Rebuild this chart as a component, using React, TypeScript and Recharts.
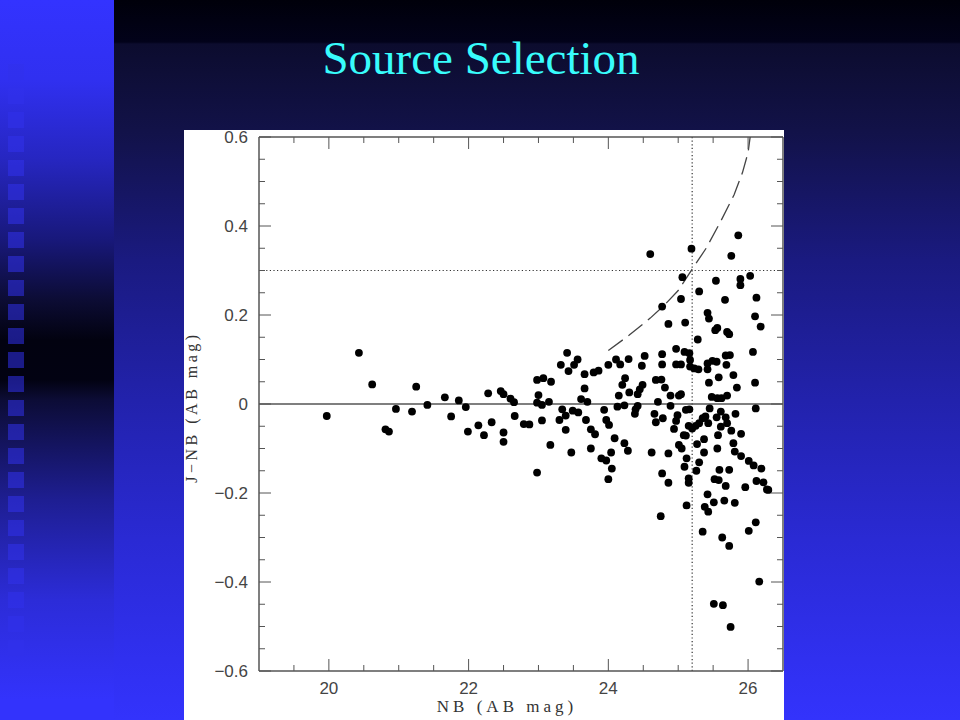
import React from 'react';
import { ScatterChart, Scatter, XAxis, YAxis, ReferenceLine } from 'recharts';

// NB magnitude and J-NB colour of every source
const nbMag = [
  19.97, 20.43, 20.62, 20.81, 20.86, 20.96, 21.19, 21.25, 21.41, 21.66,
  21.75, 21.86, 21.96, 21.99, 22.14, 22.22, 22.28, 22.33, 22.46, 22.5,
  22.5, 22.5, 22.6, 22.65, 22.66, 22.79, 22.87, 22.98, 23.07, 23.18,
  23.0, 22.98, 23.05, 23.15, 22.98, 23.05, 23.17, 23.3, 23.39, 23.34,
  23.39, 23.47, 23.49, 23.57, 23.68, 23.75, 23.81, 23.75, 23.9, 23.97,
  24.0, 24.05, 24.04, 23.94, 23.97, 24.01, 24.09, 24.23, 24.28, 24.13,
  24.23, 24.39, 24.38, 24.42, 23.32, 23.41, 23.56, 23.51, 23.43, 23.66,
  23.79, 23.86, 23.66, 23.61, 23.7, 24.0, 24.11, 24.17, 24.29, 24.52,
  24.48, 24.24, 24.2, 24.3, 24.15, 24.42, 24.45, 24.49, 24.6, 25.19,
  25.86, 25.76, 25.06, 25.54, 25.89, 25.89, 26.03, 25.04, 25.3, 25.67,
  26.12, 24.77, 24.86, 25.1, 25.42, 25.44, 25.53, 25.56, 25.7, 25.73,
  26.1, 26.18, 25.28, 24.97, 25.09, 25.16, 24.77, 24.77, 24.97, 25.04,
  25.17, 25.17, 25.23, 25.29, 25.42, 25.49, 25.55, 25.42, 25.68, 25.74,
  25.69, 26.07, 25.79, 25.58, 25.44, 25.84, 26.1, 24.68, 24.76, 24.81,
  24.89, 25.01, 25.04, 24.71, 24.89, 25.11, 25.16, 24.99, 24.97, 24.66,
  24.78, 25.48, 25.56, 25.62, 25.7, 25.45, 25.61, 25.68, 25.82, 26.11,
  25.43, 25.35, 25.3, 25.61, 25.7, 25.15, 25.25, 24.68, 24.62, 24.77,
  24.75, 24.86, 24.86, 24.94, 25.01, 25.05, 25.08, 25.11, 25.09, 25.12,
  25.15, 25.15, 25.12, 25.2, 25.39, 25.27, 25.3, 25.26, 25.37, 25.37,
  25.38, 25.43, 25.51, 25.42, 25.35, 25.51, 25.64, 25.75, 25.63, 25.73,
  25.52, 25.58, 25.59, 25.57, 25.55, 25.56, 25.66, 25.68, 25.73, 25.76,
  25.79, 25.81, 25.81, 25.9, 25.9, 25.96, 26.01, 26.08, 26.01, 26.11,
  26.12, 26.19, 26.22, 26.27, 26.29, 26.16,
];
const jMinusNb = [
  -0.027, 0.115, 0.044, -0.057, -0.062, -0.011, -0.017, 0.039, -0.002, 0.015,
  -0.028, 0.008, -0.007, -0.062, -0.048, -0.07, 0.024, -0.041, 0.029, 0.022,
  -0.064, -0.085, 0.012, 0.004, -0.027, -0.045, -0.046, 0.054, 0.058, 0.05,
  0.02, 0.003, -0.002, 0.005, -0.154, -0.037, -0.092, -0.036, -0.026, -0.012,
  -0.058, -0.109, -0.015, -0.019, -0.036, -0.057, -0.068, -0.1, -0.122, -0.127,
  -0.169, -0.145, -0.109, -0.013, -0.036, -0.047, -0.077, -0.088, -0.105, -0.006,
  -0.003, -0.012, -0.022, -0.004, 0.088, 0.115, 0.1, 0.088, 0.074, 0.067,
  0.071, 0.075, 0.035, 0.011, 0.005, 0.088, 0.1, 0.089, 0.101, 0.108,
  0.086, 0.058, 0.043, 0.026, 0.019, 0.022, 0.033, 0.043, 0.337, 0.349,
  0.379, 0.333, 0.285, 0.277, 0.281, 0.267, 0.288, 0.236, 0.253, 0.234,
  0.239, 0.219, 0.18, 0.183, 0.205, 0.192, 0.166, 0.171, 0.162, 0.157,
  0.197, 0.174, 0.145, 0.124, 0.117, 0.114, 0.112, 0.089, 0.089, 0.089,
  0.099, 0.084, 0.08, 0.078, 0.091, 0.097, 0.095, 0.078, 0.109, 0.11,
  0.088, 0.117, 0.065, 0.06, 0.048, 0.037, 0.048, 0.054, 0.055, 0.037,
  0.019, 0.019, 0.022, 0.005, -0.004, -0.013, -0.012, -0.025, -0.038, -0.022,
  -0.032, 0.016, 0.013, 0.013, 0.019, -0.01, -0.017, -0.03, -0.022, -0.01,
  -0.043, -0.032, -0.043, -0.051, -0.043, -0.049, -0.049, -0.041, -0.109, -0.156,
  -0.252, -0.111, -0.177, -0.056, -0.092, -0.1, -0.07, -0.071, -0.141, -0.122,
  -0.167, -0.177, -0.228, -0.055, -0.028, -0.09, -0.131, -0.15, -0.079, -0.109,
  -0.231, -0.242, -0.221, -0.203, -0.287, -0.449, -0.452, -0.501, -0.3, -0.319,
  -0.169, -0.171, -0.148, -0.07, -0.03, -0.1, -0.217, -0.184, -0.148, -0.06,
  -0.088, -0.107, -0.222, -0.067, -0.117, -0.187, -0.128, -0.138, -0.285, -0.266,
  -0.173, -0.145, -0.176, -0.192, -0.193, -0.399,
];

// dashed selection limit curve
const limitNb = [24.0, 24.3, 24.6, 24.8, 25.0, 25.2, 25.4, 25.6, 25.8, 25.92, 26.0, 26.03];
const limitColor = [0.12, 0.155, 0.193, 0.222, 0.255, 0.303, 0.35, 0.408, 0.47, 0.52, 0.565, 0.6];

const colourCut = 0.3;
const magCut = 25.2;

const xTicks = [19.5, 20, 20.5, 21, 21.5, 22, 22.5, 23, 23.5, 24, 24.5, 25, 25.5, 26];
const xLabels = ['20', '22', '24', '26'];
const yTicks = [
  -0.6, -0.55, -0.5, -0.45, -0.4, -0.35, -0.3, -0.25, -0.2, -0.15, -0.1, -0.05, 0,
  0.05, 0.1, 0.15, 0.2, 0.25, 0.3, 0.35, 0.4, 0.45, 0.5, 0.55, 0.6,
];
const yMajor = [-0.6, -0.4, -0.2, 0, 0.2, 0.4, 0.6];
const yLabels = ['\u22120.6', '\u22120.4', '\u22120.2', '0', '0.2', '0.4', '0.6'];

const points = nbMag.map((x, i) => ({ x, y: jMinusNb[i] }));
const limit = limitNb.map((x, i) => ({ x, y: limitColor[i] }));

const AXIS = '#555';
const tickFont = { fontFamily: '"Liberation Sans", Arial, sans-serif', fontSize: 17, fill: '#444' };

const majorX = (v: number) => xLabels.includes(String(v));
const majorYIndex = (v: number) => yMajor.findIndex((m) => Math.abs(m - v) < 1e-6);

const BottomTick = (p: any) => {
  const v = p.payload.value;
  const major = majorX(v);
  return (
    <g>
      <line x1={p.x} x2={p.x} y1={p.y} y2={p.y - (major ? 12 : 6)} stroke={AXIS} />
      {major && (
        <text x={p.x} y={p.y + 23} textAnchor="middle" {...tickFont}>
          {v}
        </text>
      )}
    </g>
  );
};

const TopTick = (p: any) => {
  const major = majorX(p.payload.value);
  return <line x1={p.x} x2={p.x} y1={p.y} y2={p.y + (major ? 12 : 6)} stroke={AXIS} />;
};

const LeftTick = (p: any) => {
  const idx = majorYIndex(p.payload.value);
  return (
    <g>
      <line x1={p.x} x2={p.x + (idx >= 0 ? 12 : 6)} y1={p.y} y2={p.y} stroke={AXIS} />
      {idx >= 0 && (
        <text x={p.x - 11} y={p.y + 6} textAnchor="end" {...tickFont}>
          {yLabels[idx]}
        </text>
      )}
    </g>
  );
};

const RightTick = (p: any) => {
  const idx = majorYIndex(p.payload.value);
  return <line x1={p.x} x2={p.x - (idx >= 0 ? 12 : 6)} y1={p.y} y2={p.y} stroke={AXIS} />;
};

const Dot = (p: any) => <circle cx={p.cx} cy={p.cy} r={3.9} fill="#000" />;

const squares = Array.from({ length: 25 }, (_, k) => 64 + 24 * k);

export default function App() {
  return (
    <div style={{ position: 'fixed', left: 0, top: 0, width: 960, height: 720, overflow: 'hidden',
      background: 'linear-gradient(to bottom, #00000a 0px, #02021a 42px, #0c0c2e 44px, #121248 130px, #1a1a80 260px, #2222ac 400px, #2a2ad4 540px, #3131f4 680px, #3333fc 720px)' }}>
      <div style={{ position: 'absolute', left: 0, top: 0, width: 114, height: 720,
        background: 'linear-gradient(to bottom, #3333ff 0px, #3030f0 80px, #2626c0 160px, #18187a 240px, #0c0c34 300px, #020210 340px, #020212 380px, #0c0c36 400px, #1e1e92 500px, #2c2cd8 600px, #3333fc 700px)' }} />
      {squares.map((y) => (
        <div key={y} style={{ position: 'absolute', left: 8, top: y, width: 16, height: 16, background: 'rgba(50,50,235,0.55)' }} />
      ))}
      <div style={{ position: 'absolute', left: 0, width: 962, top: 30, textAlign: 'center',
        fontFamily: '"Liberation Serif", "Times New Roman", serif', fontSize: 47, color: '#38fcfc', lineHeight: '56px' }}>
        Source Selection
      </div>
      <div style={{ position: 'absolute', left: 184, top: 130, width: 600, height: 590, background: '#fff' }}>
        <ScatterChart width={600} height={590} margin={{ top: 0, right: 0, bottom: 0, left: 0 }}>
          <XAxis xAxisId="b" type="number" dataKey="x" domain={[19, 26.5]} ticks={xTicks} interval={0}
            height={49} tickSize={0} tickMargin={0} tickLine={false} tick={<BottomTick />}
            axisLine={{ stroke: AXIS, strokeWidth: 1.5 }} allowDataOverflow />
          <XAxis xAxisId="t" orientation="top" type="number" dataKey="x" domain={[19, 26.5]} ticks={xTicks} interval={0}
            height={7} tickSize={0} tickMargin={0} tickLine={false} tick={<TopTick />}
            axisLine={{ stroke: AXIS, strokeWidth: 1.5 }} allowDataOverflow />
          <YAxis yAxisId="l" type="number" dataKey="y" domain={[-0.6, 0.6]} ticks={yTicks} interval={0}
            width={75} tickSize={0} tickMargin={0} tickLine={false} tick={<LeftTick />}
            axisLine={{ stroke: AXIS, strokeWidth: 1.5 }} allowDataOverflow />
          <YAxis yAxisId="r" orientation="right" type="number" dataKey="y" domain={[-0.6, 0.6]} ticks={yTicks} interval={0}
            width={1} tickSize={0} tickMargin={0} tickLine={false} tick={<RightTick />}
            axisLine={{ stroke: AXIS, strokeWidth: 1.5 }} allowDataOverflow />
          <ReferenceLine xAxisId="b" yAxisId="l" y={0} stroke={AXIS} strokeWidth={1.5} />
          <ReferenceLine xAxisId="b" yAxisId="l" y={colourCut} stroke="#333" strokeWidth={1.2} strokeDasharray="1.2 2.4" />
          <ReferenceLine xAxisId="b" yAxisId="l" x={magCut} stroke="#333" strokeWidth={1.2} strokeDasharray="1.2 2.4" />
          <Scatter xAxisId="b" yAxisId="l" data={limit} line={{ stroke: '#444', strokeWidth: 1.3, strokeDasharray: '18 7' }}
            lineType="joint" shape={() => <g />} isAnimationActive={false} />
          <Scatter xAxisId="b" yAxisId="l" data={points} shape={<Dot />} isAnimationActive={false} />
          <Scatter xAxisId="t" yAxisId="r" data={points} shape={() => <g />} isAnimationActive={false} />
        </ScatterChart>
        <div style={{ position: 'absolute', left: 323 - 150, width: 300, top: 567, textAlign: 'center',
          fontFamily: '"Liberation Serif", "Times New Roman", serif', fontSize: 17, letterSpacing: 4, color: '#333', lineHeight: '20px' }}>
          NB (AB mag)
        </div>
        <div style={{ position: 'absolute', left: 8 - 100, width: 200, top: 277 - 10, textAlign: 'center',
          transform: 'rotate(-90deg)', fontFamily: '"Liberation Serif", "Times New Roman", serif', fontSize: 16,
          letterSpacing: 3.5, color: '#333', lineHeight: '20px' }}>
          J{'\u2212'}NB (AB mag)
        </div>
      </div>
    </div>
  );
}
